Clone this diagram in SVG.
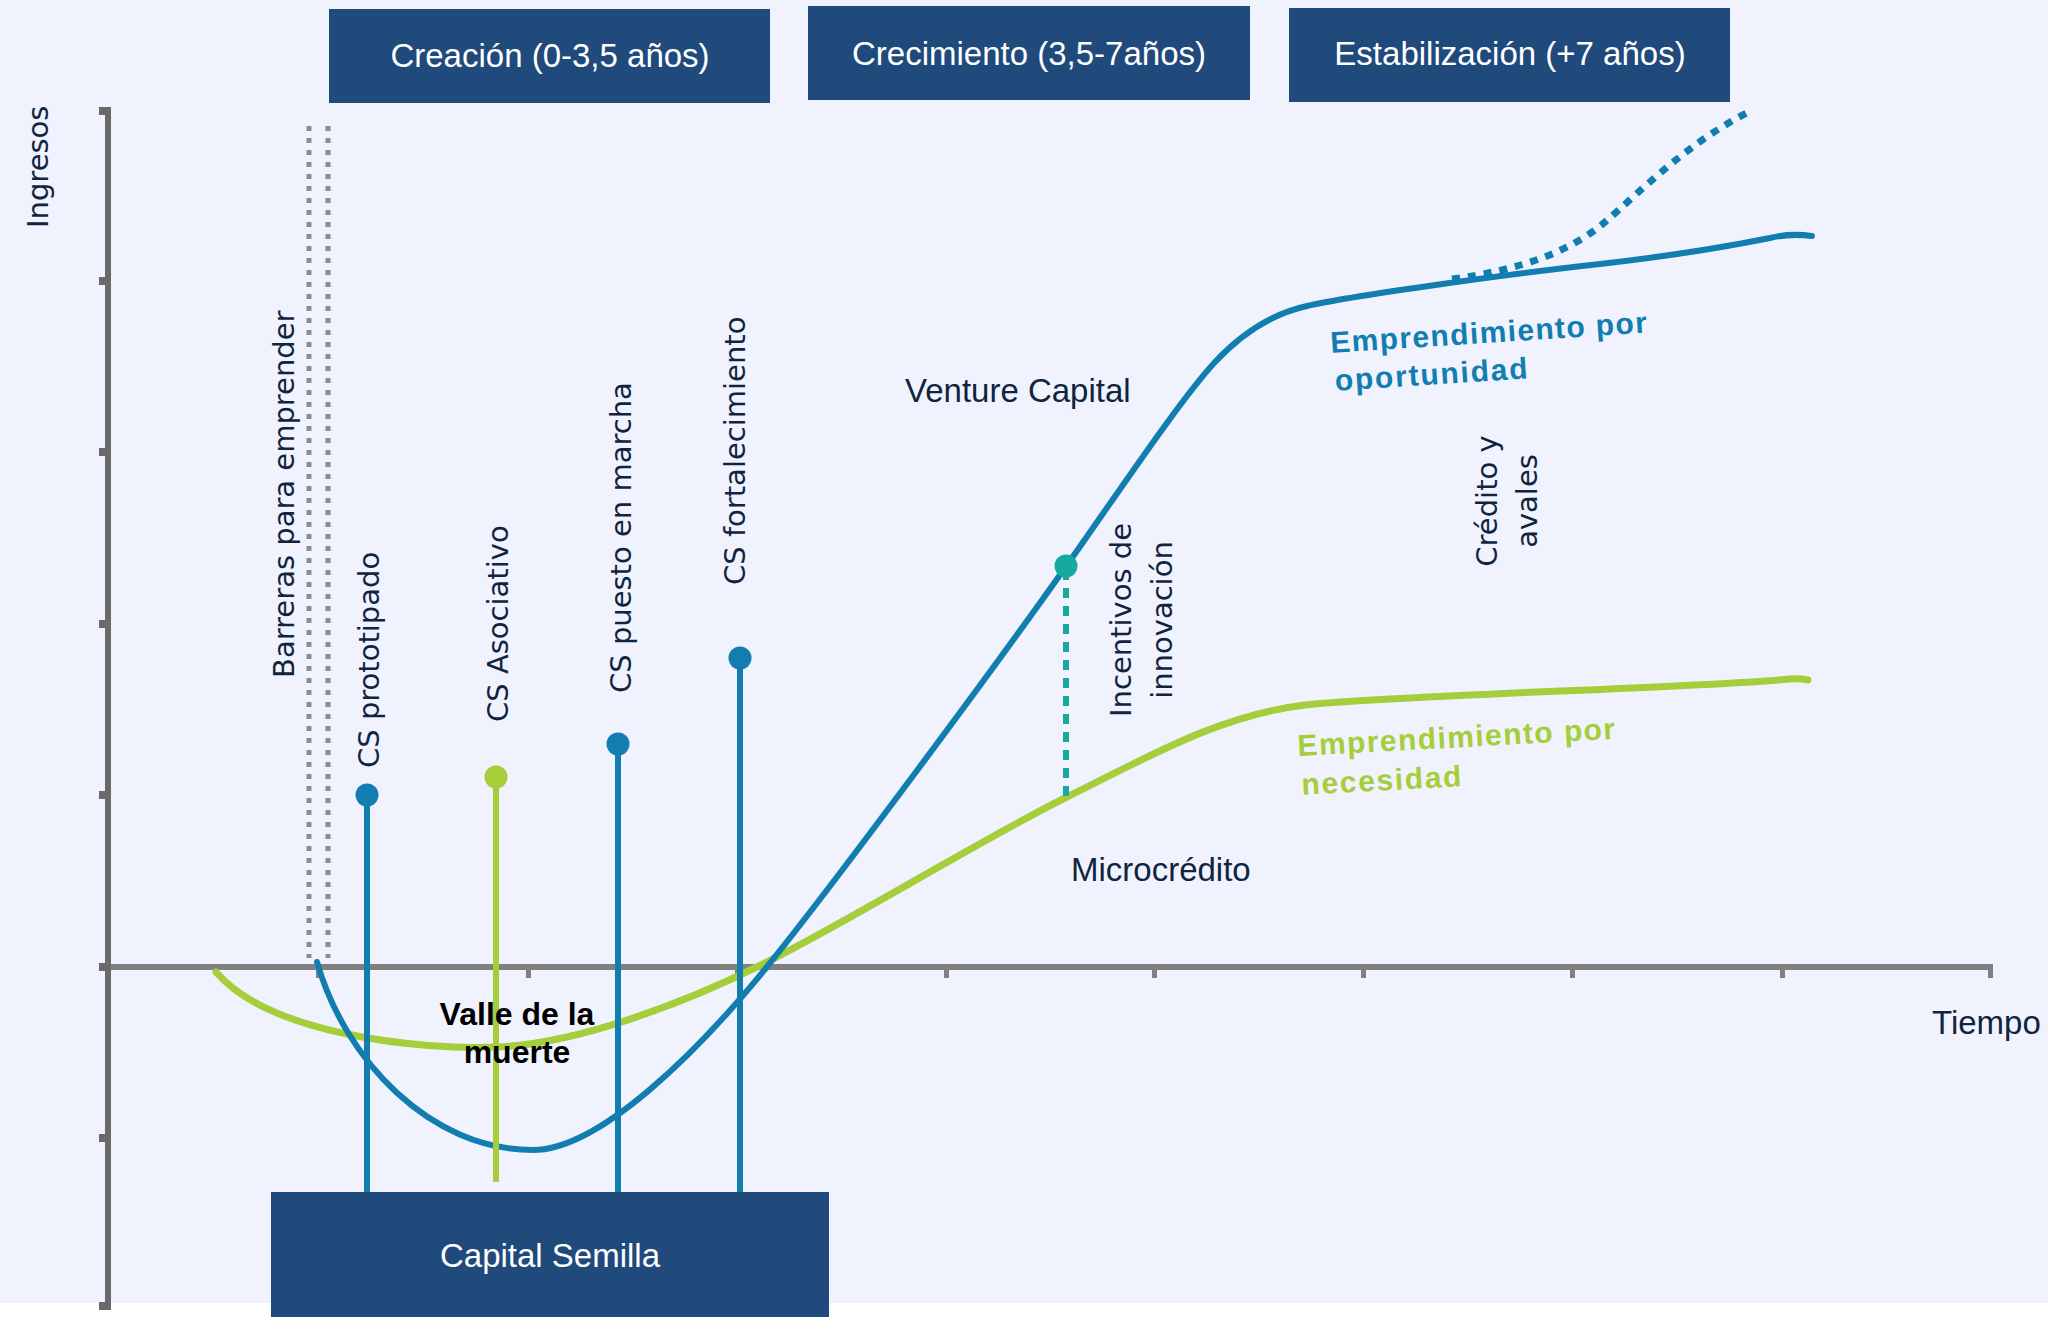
<svg xmlns="http://www.w3.org/2000/svg" width="2048" height="1317" viewBox="0 0 2048 1317">
<style>
.hdr{fill:#1f4a7b}
.htxt{font-family:"Liberation Sans",Arial,sans-serif;font-size:33px;fill:#ffffff;text-anchor:middle}
.rot{font-family:"DejaVu Sans","Liberation Sans",sans-serif;font-size:29px;fill:#10243f}
.lbl{font-family:"Liberation Sans",Arial,sans-serif;font-size:33px;fill:#10243f}
.bold{font-family:"Liberation Sans",Arial,sans-serif;font-size:32px;font-weight:bold;fill:#000000;text-anchor:middle}
.emp{font-family:"Liberation Sans",Arial,sans-serif;font-size:30px;font-weight:bold}
.blue{stroke:#127eb0;fill:none;stroke-width:6;stroke-linecap:round}
.green{stroke:#a6cd3a;fill:none;stroke-width:7;stroke-linecap:round}
.stem{stroke-width:6;fill:none}
.axis{fill:none}
.grid{stroke:#8c8c8c;stroke-width:5;stroke-dasharray:5 7;fill:none}
</style>
<rect x="0" y="0" width="2048" height="1303" fill="#f0f3fe"/>
<rect x="0" y="1303" width="2048" height="14" fill="#ffffff"/>

<g id="axes">
  <line class="axis" x1="108" y1="967" x2="1991" y2="967" stroke-width="6" stroke="#808080"/>
  <line class="axis" x1="108" y1="107" x2="108" y2="1310" stroke-width="6" stroke="#6a6a6a"/>
  <g fill="#6a6a6a">
    <rect x="99" y="107" width="10" height="8"/>
    <rect x="99" y="277" width="10" height="8"/>
    <rect x="99" y="448" width="10" height="8"/>
    <rect x="99" y="620" width="10" height="8"/>
    <rect x="99" y="791" width="10" height="8"/>
    <rect x="99" y="963" width="10" height="8"/>
    <rect x="99" y="1134" width="10" height="8"/>
    <rect x="99" y="1302" width="10" height="8"/>
  </g>
  <g fill="#808080">
    <rect x="316" y="967" width="5" height="11"/>
    <rect x="526" y="967" width="5" height="11"/>
    <rect x="735" y="967" width="5" height="11"/>
    <rect x="944" y="967" width="5" height="11"/>
    <rect x="1152" y="967" width="5" height="11"/>
    <rect x="1361" y="967" width="5" height="11"/>
    <rect x="1570" y="967" width="5" height="11"/>
    <rect x="1780" y="967" width="5" height="11"/>
    <rect x="1988" y="964" width="5" height="14"/>
  </g>
  <text class="rot" transform="translate(48,228) rotate(-90)">Ingresos</text>
  <text class="lbl" x="1932" y="1034">Tiempo</text>
</g>

<g id="barreras">
  <line class="grid" x1="309" y1="126" x2="309" y2="958"/>
  <line class="grid" x1="328" y1="126" x2="328" y2="958"/>
  <text class="rot" transform="translate(294,678) rotate(-90)">Barreras para emprender</text>
</g>

<g id="connectors">
  <path class="green" d="M216,972 C270,1035 420,1050 497,1047 C575,1044 680,1005 761,965 C850,921 980,840 1067,797 C1150,756 1220,715 1305,705 C1390,695 1700,688 1790,679 Q1800,678 1808,680"/>
  <path class="blue" d="M317,962 C345,1060 430,1150 533,1150 C600,1150 700,1050 770,963 C840,876 1000,660 1067,565 C1120,490 1180,400 1215,362 C1245,330 1275,313 1307,306 C1345,297 1500,275 1600,264 C1680,255 1740,244 1770,238 Q1790,233 1812,236"/>
  <path fill="none" stroke="#127eb0" stroke-width="7" stroke-dasharray="8 8" d="M1452,279 C1520,270 1570,252 1605,222 S1690,140 1753,110"/>
  <line stroke="#16a99e" stroke-width="6" stroke-dasharray="10 8" x1="1066" y1="570" x2="1066" y2="798"/>
  <line class="stem" stroke="#127eb0" x1="367" y1="795" x2="367" y2="1195"/>
  <line class="stem" stroke="#a6cd3a" x1="496" y1="777" x2="496" y2="1182"/>
  <line class="stem" stroke="#127eb0" x1="618" y1="744" x2="618" y2="1195"/>
  <line class="stem" stroke="#127eb0" x1="740" y1="658" x2="740" y2="1195"/>
</g>

<g id="cs-prototipado">
  <circle cx="367" cy="795" r="11.5" fill="#127eb0"/>
  <text class="rot" transform="translate(379,768) rotate(-90)">CS prototipado</text>
</g>
<g id="cs-asociativo">
  <circle cx="496" cy="777" r="11.5" fill="#a6cd3a"/>
  <text class="rot" transform="translate(508,722) rotate(-90)">CS Asociativo</text>
</g>
<g id="cs-puesto">
  <circle cx="618" cy="744" r="11.5" fill="#127eb0"/>
  <text class="rot" transform="translate(631,693) rotate(-90)">CS puesto en marcha</text>
</g>
<g id="cs-fortalecimiento">
  <circle cx="740" cy="658" r="11.5" fill="#127eb0"/>
  <text class="rot" transform="translate(745,585) rotate(-90)">CS fortalecimiento</text>
</g>

<g id="incentivos">
  <circle cx="1066" cy="566" r="11.5" fill="#16a99e"/>
  <text class="rot" text-anchor="middle" transform="translate(1131,620) rotate(-90)">Incentivos de</text>
  <text class="rot" text-anchor="middle" transform="translate(1172,620) rotate(-90)">innovación</text>
</g>

<g id="credito">
  <text class="rot" text-anchor="middle" transform="translate(1497,501) rotate(-90)">Crédito y</text>
  <text class="rot" text-anchor="middle" transform="translate(1537,501) rotate(-90)">avales</text>
</g>

<g id="venture">
  <text class="lbl" x="905" y="402">Venture Capital</text>
</g>
<g id="microcredito">
  <text class="lbl" x="1071" y="881">Microcrédito</text>
</g>

<g id="valle">
  <text class="bold" x="517" y="1025">Valle de la</text>
  <text class="bold" x="517" y="1063">muerte</text>
</g>

<g id="oportunidad-label">
  <text class="emp" fill="#127eb0" transform="translate(1331,353) rotate(-3.7)">
    <tspan x="0" y="0" textLength="317" lengthAdjust="spacing">Emprendimiento por</tspan>
    <tspan x="2" y="38" textLength="193" lengthAdjust="spacing">oportunidad</tspan>
  </text>
</g>
<g id="necesidad-label">
  <text class="emp" fill="#a6cd3a" transform="translate(1298,756) rotate(-3.1)">
    <tspan x="0" y="0" textLength="318" lengthAdjust="spacing">Emprendimiento por</tspan>
    <tspan x="2" y="39" textLength="160" lengthAdjust="spacing">necesidad</tspan>
  </text>
</g>

<g id="creacion">
  <rect class="hdr" x="329" y="9" width="441" height="94"/>
  <text class="htxt" x="550" y="67">Creación (0-3,5 años)</text>
</g>
<g id="crecimiento">
  <rect class="hdr" x="808" y="6" width="442" height="94"/>
  <text class="htxt" x="1029" y="65">Crecimiento (3,5-7años)</text>
</g>
<g id="estabilizacion">
  <rect class="hdr" x="1289" y="8" width="441" height="94"/>
  <text class="htxt" x="1510" y="65">Estabilización (+7 años)</text>
</g>
<g id="capital-semilla">
  <rect class="hdr" x="271" y="1192" width="558" height="125"/>
  <text class="htxt" x="550" y="1267">Capital Semilla</text>
</g>
</svg>
